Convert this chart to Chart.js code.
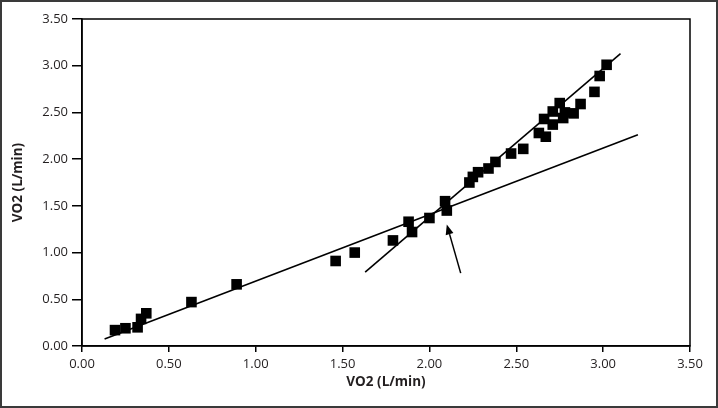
<!DOCTYPE html>
<html>
<head>
<meta charset="utf-8">
<style>
  html, body { margin: 0; padding: 0; background: #fff; }
  #wrap { width: 718px; height: 408px; position: relative; }
</style>
<script src="https://cdn.jsdelivr.net/npm/chart.js@4"></script>
</head>
<body>
<div id="wrap"><canvas id="c"></canvas></div>
<script>
// ── Data ──────────────────────────────────────────────
const VO2_X = [0.19, 0.25, 0.32, 0.34, 0.37, 0.63, 0.89, 1.46, 1.57, 1.79, 1.88, 1.90, 2.00, 2.09, 2.10,
               2.23, 2.25, 2.28, 2.34, 2.38, 2.47, 2.54, 2.63, 2.67, 2.66, 2.71, 2.71, 2.75, 2.77, 2.78,
               2.83, 2.87, 2.95, 2.98, 3.02];
const VO2_Y = [0.17, 0.19, 0.20, 0.29, 0.35, 0.47, 0.66, 0.91, 1.00, 1.13, 1.33, 1.22, 1.37, 1.55, 1.45,
               1.75, 1.81, 1.86, 1.90, 1.97, 2.06, 2.11, 2.28, 2.24, 2.43, 2.37, 2.51, 2.60, 2.44, 2.50,
               2.49, 2.59, 2.72, 2.89, 3.01];

// fitted lines (end points)
const LINE1_X = [0.13, 3.20];
const LINE1_Y = [0.075, 2.26];
const LINE2_X = [1.63, 3.10];
const LINE2_Y = [0.79, 3.13];

// arrow pointing at the breakpoint
const ARROW_FROM = [2.18, 0.78];
const ARROW_TO   = [2.10, 1.30];

const TICKS = [0, 0.5, 1, 1.5, 2, 2.5, 3, 3.5];
const AXIS_TITLE = 'VO2 (L/min)';

const INK = '#231f20';
const pts = (xs, ys) => xs.map((x, i) => ({ x, y: ys[i] }));

// ── Frame + arrow plugin ──────────────────────────────
const decor = {
  id: 'decor',
  afterDatasetsDraw(chart) {
    const { ctx, chartArea: a, scales: { x, y } } = chart;
    ctx.save();
    ctx.strokeStyle = '#000';
    ctx.lineWidth = 1.5;
    ctx.strokeRect(a.left, a.top, a.right - a.left, a.bottom - a.top);

    // arrow
    const x0 = x.getPixelForValue(ARROW_FROM[0]), y0 = y.getPixelForValue(ARROW_FROM[1]);
    const x1 = x.getPixelForValue(ARROW_TO[0]),   y1 = y.getPixelForValue(ARROW_TO[1]);
    const ang = Math.atan2(y1 - y0, x1 - x0);
    const head = 10, hw = 4;
    const bx = x1 - head * Math.cos(ang), by = y1 - head * Math.sin(ang);
    ctx.lineWidth = 1.5;
    ctx.beginPath();
    ctx.moveTo(x0, y0);
    ctx.lineTo(bx, by);
    ctx.stroke();
    ctx.fillStyle = '#000';
    ctx.beginPath();
    ctx.moveTo(x1, y1);
    ctx.lineTo(bx + hw * Math.sin(ang), by - hw * Math.cos(ang));
    ctx.lineTo(bx - hw * Math.sin(ang), by + hw * Math.cos(ang));
    ctx.closePath();
    ctx.fill();
    ctx.restore();
  },
  afterDraw(chart) {
    const { ctx, width, height } = chart;
    ctx.save();
    ctx.strokeStyle = '#3a3a3a';
    ctx.lineWidth = 2;
    ctx.strokeRect(1, 1, width - 2, height - 2);
    ctx.restore();
  },
};

// ── Chart ─────────────────────────────────────────────
Chart.defaults.font.family = '"Open Sans", "DejaVu Sans", sans-serif';
Chart.defaults.font.size = 13;
Chart.defaults.color = INK;

const axisOpts = (extra) => ({
  type: 'linear',
  min: 0,
  max: 3.5,
  afterBuildTicks: s => { s.ticks = TICKS.map(v => ({ value: v })); },
  border: { display: true, color: '#000', width: 1.5 },
  ...extra,
});

new Chart(document.getElementById('c'), {
  type: 'scatter',
  data: {
    datasets: [
      {
        label: 'VO2',
        data: pts(VO2_X, VO2_Y),
        pointStyle: 'rect',
        pointRadius: 7.5,
        pointHoverRadius: 7.5,
        backgroundColor: '#000',
        borderColor: '#000',
        borderWidth: 0,
        order: 2,
      },
      {
        label: 'fit 1',
        data: pts(LINE1_X, LINE1_Y),
        showLine: true,
        borderColor: '#000',
        borderWidth: 1.6,
        pointRadius: 0,
        order: 1,
      },
      {
        label: 'fit 2',
        data: pts(LINE2_X, LINE2_Y),
        showLine: true,
        borderColor: '#000',
        borderWidth: 1.6,
        pointRadius: 0,
        order: 1,
      },
    ],
  },
  options: {
    responsive: true,
    maintainAspectRatio: false,
    animation: false,
    layout: { padding: { left: 0, right: 28, top: 19, bottom: 0 } },
    plugins: { legend: { display: false }, tooltip: { enabled: false } },
    scales: {
      x: axisOpts({
        position: 'bottom',
        afterFit: s => { s.height = 62; },
        grid: { display: true, drawOnChartArea: false, drawTicks: true, color: '#000', lineWidth: 1.5, tickLength: 6 },
        ticks: { color: INK, font: { size: 13 }, padding: 4, maxRotation: 0, callback: v => v.toFixed(2) },
        title: { display: true, text: AXIS_TITLE, color: INK, font: { size: 13.5, weight: 'bold' }, padding: { top: 0, bottom: 18 } },
      }),
      y: axisOpts({
        position: 'left',
        afterFit: s => { s.width = 82; },
        grid: { display: true, drawOnChartArea: false, drawTicks: true, color: '#000', lineWidth: 1.5, tickLength: 10 },
        ticks: { color: INK, font: { size: 13 }, padding: 4, callback: v => v.toFixed(2) },
        title: { display: true, text: AXIS_TITLE, color: INK, font: { size: 13.5, weight: 'bold' }, padding: { top: 10, bottom: 0 } },
      }),
    },
  },
  plugins: [decor],
});
</script>
</body>
</html>
